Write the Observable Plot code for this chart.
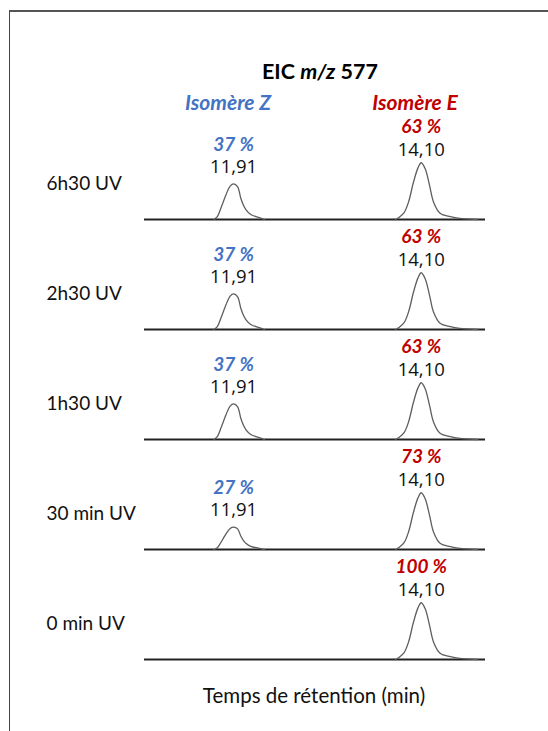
<!DOCTYPE html>
<html>
<head>
<meta charset="utf-8">
<script src="https://cdn.jsdelivr.net/npm/d3@7"></script>
<script src="https://cdn.jsdelivr.net/npm/@observablehq/plot@0.6"></script>
<style>
  html, body { margin: 0; padding: 0; background: #fff; }
  #page { position: relative; width: 548px; height: 731px; overflow: hidden; font-family: Lato, "Open Sans", sans-serif; }
  #frame { position: absolute; left: 9px; top: 10px; right: -2px; bottom: -2px;
           border-top: 2px solid #555; border-left: 1px solid #444; }
  .lbl { position: absolute; transform: translate(-50%, -50%); white-space: nowrap; line-height: 1; }
  #chart { position: absolute; left: 0; top: 0; }
</style>
</head>
<body>
<div id="page">
  <div id="frame"></div>
  <div id="chart"></div>
  <div class="lbl" id="title" style="left:320px; top:72px; font-size:21.5px; font-weight:700; color:#000;">EIC <i>m/z</i> 577</div>
  <div class="lbl" id="isoZ" style="left:228px; top:101px; font-size:21px; font-weight:700; font-style:italic; color:#4472C4;">Isomère Z</div>
  <div class="lbl" id="isoE" style="left:415px; top:101px; font-size:21px; font-weight:700; font-style:italic; color:#C00000;">Isomère E</div>
  <div class="lbl" id="xlabel" style="left:314px; top:695px; font-size:20.5px; color:#111;">Temps de rétention (min)</div>
</div>
<script>
// Irradiation times (one chromatogram per row)
const samples = ["6h30 UV", "2h30 UV", "1h30 UV", "30 min UV", "0 min UV"];
// Relative proportions of each isomer (%)
const pctZ = [37, 37, 37, 27, 0];
const pctE = [63, 63, 63, 73, 100];
// Retention times (min)
const rtZ = 11.91;
const rtE = 14.10;
// Time window of the extracted ion chromatogram (min)
const timeWindow = [10.87, 14.85];
// Peak profiles: offset from apex (min) and relative intensity
const profileZOffset = [-0.23, -0.19, -0.15, -0.12, -0.09, -0.04, 0, 0.047, 0.085, 0.115, 0.143, 0.2, 0.29, 0.36];
const profileZValue  = [0, 0.08, 0.31, 0.5, 0.69, 0.94, 1, 0.92, 0.59, 0.4, 0.28, 0.14, 0.06, 0];
const profileEOffset = [-0.3, -0.265, -0.2, -0.148, -0.09, -0.038, 0, 0.047, 0.097, 0.143, 0.22, 0.34, 0.45, 0.66];
const profileEValue  = [0, 0.03, 0.12, 0.31, 0.66, 0.91, 1, 0.89, 0.6, 0.31, 0.11, 0.05, 0.02, 0];

const blue = "#4472C4", red = "#C00000";
const fmt = v => v.toFixed(2).replace(".", ",");

// Peak area of a profile (trapezoids), so that heights reflect the stated area percentages
const area = (xs, ys) => d3.sum(d3.range(1, xs.length), i => (xs[i] - xs[i - 1]) * (ys[i] + ys[i - 1]) / 2);
const areaZ = area(profileZOffset, profileZValue);
const areaE = area(profileEOffset, profileEValue);

const peaks = [];
samples.forEach((s, i) => {
  const hZ = pctZ[i] / areaZ, hE = pctE[i] / areaE;
  const top = Math.max(hZ, hE);
  peaks.push({sample: s, iso: "Z", rt: rtZ, pct: pctZ[i], h: hZ / top, offs: profileZOffset, vals: profileZValue, color: blue});
  peaks.push({sample: s, iso: "E", rt: rtE, pct: pctE[i], h: hE / top, offs: profileEOffset, vals: profileEValue, color: red});
});
const shown = peaks.filter(p => p.pct > 0);
const shownZ = shown.filter(p => p.iso === "Z");
const shownE = shown.filter(p => p.iso === "E");

const trace = shown.flatMap(p => p.offs.map((o, j) => ({sample: p.sample, iso: p.iso, t: p.rt + o, v: p.h * p.vals[j]})));

const rowH = 110.5, peakPx = 57;
const font = "Lato, 'Open Sans', sans-serif";

// Retention-time label and percentage label stacked above a peak apex
const peakLabels = (data, dyTime, dyPct) => [
  Plot.text(data, {fy: "sample", x: "rt", y: "h", text: d => fmt(d.rt), dy: dyTime,
    fontSize: 18.5, fontFamily: "'Open Sans', sans-serif", fill: "#111"}),
  Plot.text(data, {fy: "sample", x: "rt", y: "h", text: d => d.pct + " %", dy: dyPct,
    fontSize: 19, fontWeight: "bold", fontStyle: "italic", fontFamily: font, fill: d => d.color})
];

const chart = Plot.plot({
  width: 548,
  height: 731,
  marginLeft: 144,
  marginRight: 63,
  marginTop: 107.5,
  marginBottom: 71,
  style: {background: "transparent", overflow: "visible"},
  x: {domain: timeWindow, axis: null},
  y: {domain: [0, rowH / peakPx], axis: null},
  fy: {domain: samples, padding: 0, axis: null},
  marks: [
    Plot.ruleY(samples, {fy: d => d, y: 0, stroke: "#222", strokeWidth: 2}),
    Plot.line(trace, {fy: "sample", x: "t", y: "v", z: "iso", stroke: "#5e5e5e", strokeWidth: 1.3, curve: "catmull-rom"}),
    Plot.text(samples, {fy: d => d, x: timeWindow[0], y: 0, text: d => d, textAnchor: "start", dx: -98, dy: -36,
      fontSize: 19, fontFamily: font, fill: "#111"}),
    ...peakLabels(shownZ, -17, -39.5),
    ...peakLabels(shownE, -13, -35.5)
  ]
});
document.getElementById("chart").appendChild(chart);
</script>
</body>
</html>
